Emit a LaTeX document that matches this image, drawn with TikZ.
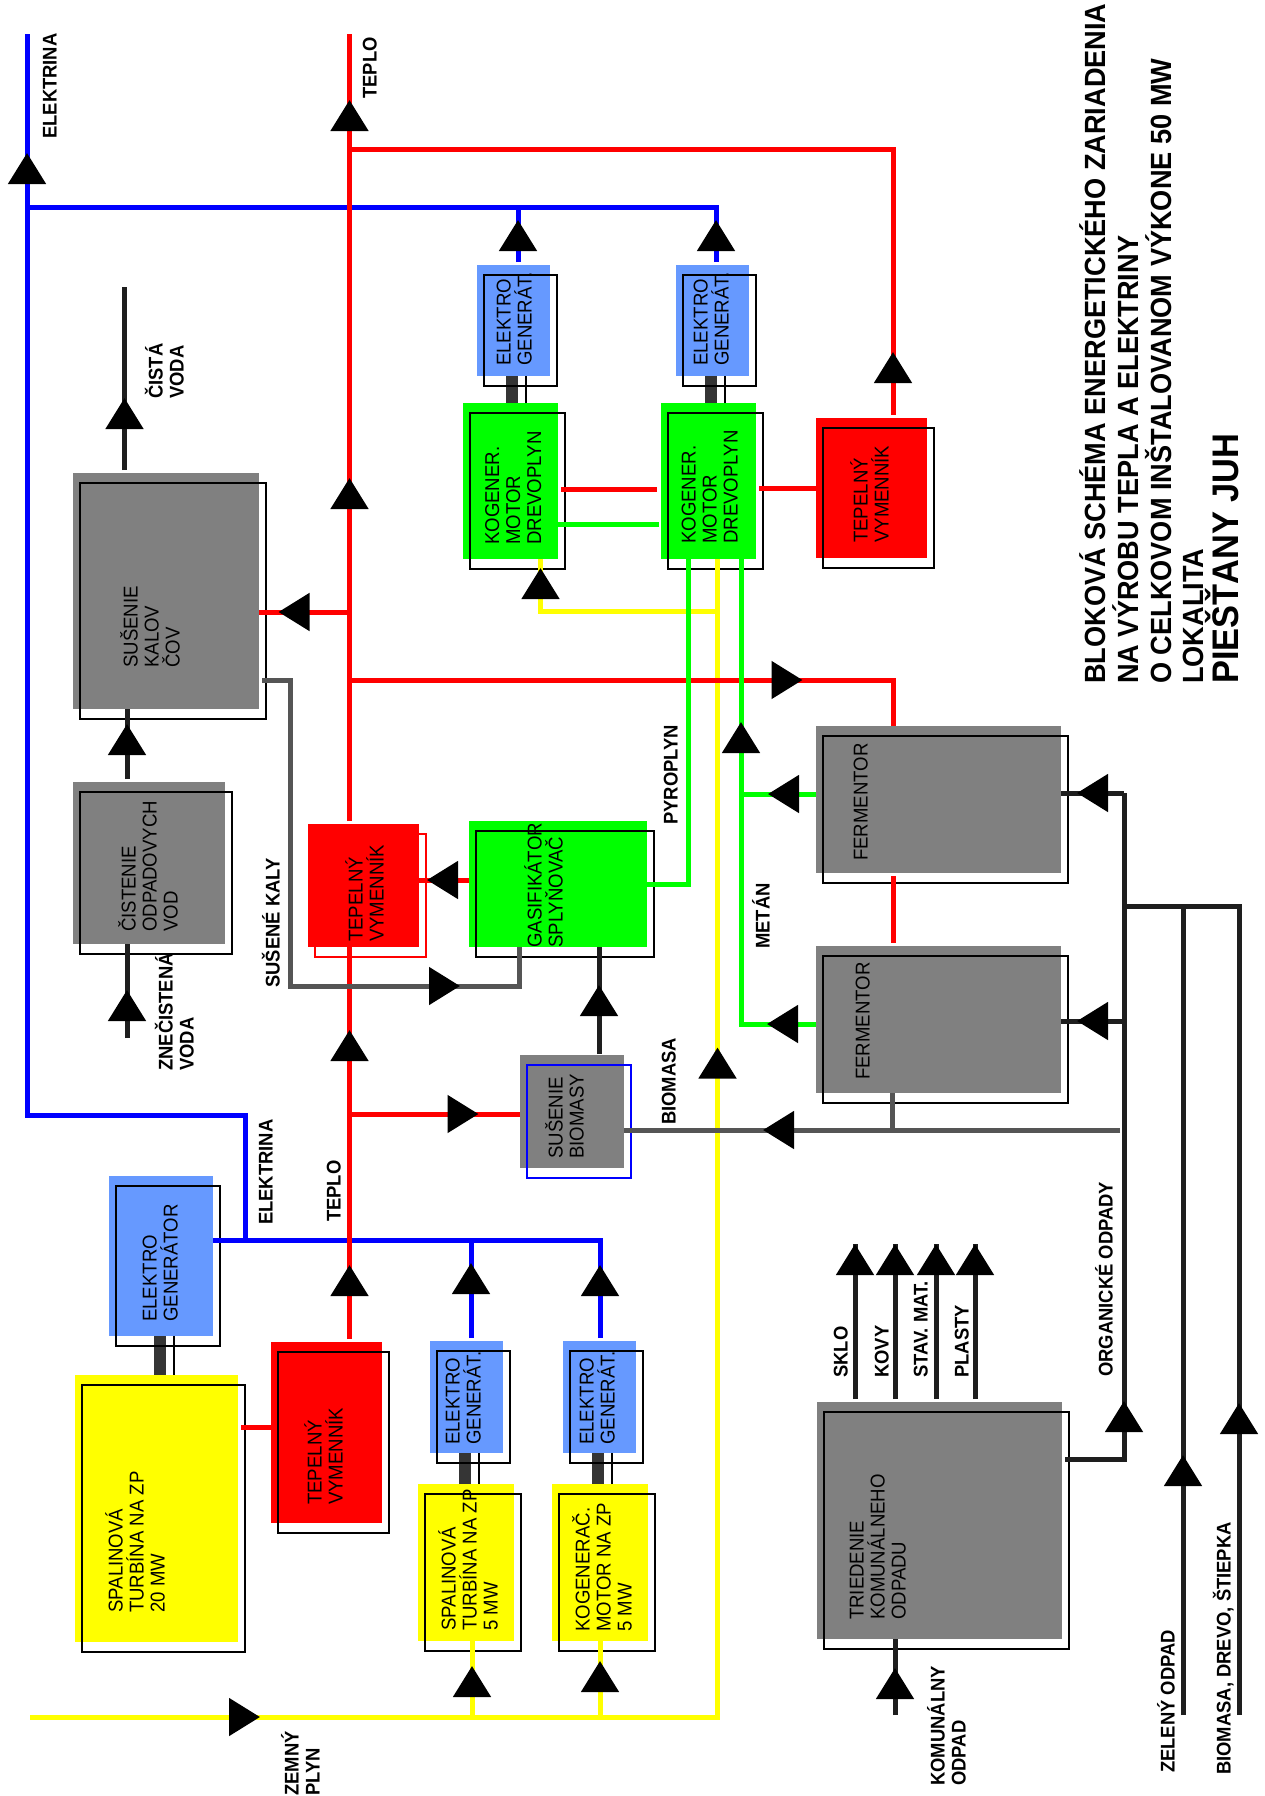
\documentclass[tikz,border=0pt]{standalone}
\usepackage{fontspec}
\setmainfont[FakeStretch=0.93]{Liberation Sans}
\usepackage{xcolor}
\usepackage{tikz}
\usetikzlibrary{arrows.meta, decorations.markings}
\definecolor{mygrey}{RGB}{128,128,128}
\definecolor{myblue}{RGB}{102,153,255}
\definecolor{myyellow}{RGB}{255,255,0}
\definecolor{mydark}{RGB}{30,30,30}
\definecolor{mypipe}{RGB}{85,85,85}
\tikzset{
  block/.style 2 args={rectangle, inner sep=0pt, outer sep=0pt,
    minimum width=#1pt, minimum height=#2pt},
  greyblock/.style 2 args={block={#1}{#2}, fill=mygrey},
  blueblock/.style 2 args={block={#1}{#2}, fill=myblue},
  greenblock/.style 2 args={block={#1}{#2}, fill=green},
  yellowblock/.style 2 args={block={#1}{#2}, fill=myyellow},
  redblock/.style 2 args={block={#1}{#2}, fill=red},
  frame/.style={line width=2pt, color=black},
  boxtext/.style={rotate=90, anchor=north west, align=left, inner sep=0pt,
    text height=14.5pt, font=\fontsize{20}{21}\selectfont},
  flowtext/.style={rotate=90, anchor=north west, align=left, inner sep=0pt,
    text height=14.5pt, font=\fontsize{19.8}{21}\selectfont\bfseries},
  line/.style={line width=5pt},
  gap/.style={shorten <=3pt},
  redline/.style={line, color=red},
  blueline/.style={line, color=blue},
  greenline/.style={line, color=green},
  yellowline/.style={line, color=myyellow},
  darkline/.style={line, color=mydark},
  pipeline/.style={line, color=mypipe},
  shaft/.style={line width=12pt, color=mydark!90!white},
  shafttrace/.style={line width=2pt, color=black},
  flow/.style={postaction={decorate, decoration={markings,
    mark=at position #1 with {\arrow[black]{Triangle[length=31pt,width=37pt]}}}}}
}
\begin{document}
\begin{tikzpicture}[x=1pt, y=-1pt]
  \useasboundingbox (0,0) rectangle (1264,1796);

  % ── Blocks: wood gas line (top) ─────────────────────────────────────────
  \node[blueblock={73}{111}]   (elgena) at (513,320.5)  {};
  \node[blueblock={73}{111}]   (elgenb) at (712.5,320.5) {};
  \node[greenblock={95}{156}]  (kogena) at (510.5,481)  {};
  \node[greenblock={95}{156}]  (kogenb) at (708.5,481)  {};
  \node[redblock={111}{140}]   (tepela) at (871.5,488)  {};

  % ── Blocks: sludge and water ────────────────────────────────────────────
  \node[greyblock={186}{236}]  (kalov)  at (166,591)    {};
  \node[greyblock={152}{162}]  (cisten) at (149,863)    {};

  % ── Blocks: gasifier, biomass, fermentors ───────────────────────────────
  \node[redblock={111}{123}]   (tepelb) at (363.5,885.5) {};
  \node[greenblock={178}{126}] (gasif)  at (558,884)    {};
  \node[greyblock={104}{113}]  (biomas) at (572,1111.5) {};
  \node[greyblock={245}{147}]  (ferma)  at (938.5,799.5) {};
  \node[greyblock={245}{147}]  (fermb)  at (938.5,1019.5) {};

  % ── Blocks: natural gas line (bottom) ───────────────────────────────────
  \node[blueblock={104}{160}]  (elgene) at (161,1256)   {};
  \node[yellowblock={163}{267}] (turba) at (156.5,1508.5) {};
  \node[redblock={111}{181}]   (tepelc) at (326.5,1432.5) {};
  \node[blueblock={73}{112}]   (elgenc) at (466,1397)   {};
  \node[blueblock={73}{112}]   (elgend) at (599.5,1397) {};
  \node[yellowblock={96}{157}] (turbb)  at (466,1562.5) {};
  \node[yellowblock={96}{157}] (kogenc) at (600,1562.5) {};
  \node[greyblock={245}{237}]  (tried)  at (939.5,1520.5) {};

  % ── Shafts between engine and generator ─────────────────────────────────
  \foreach \g/\t in {elgena/kogena, elgenb/kogenb, elgenc/turbb, elgend/kogenc, elgene/turba} {
    \draw[shaft] ([xshift=-1.5pt]\g.south) -- ([xshift=-1.5pt]\g.south |- \t.north);
    \draw[shafttrace] ([xshift=12.5pt]\g.south) -- ([xshift=12.5pt]\g.south |- \t.north);
  }

  % ── Offset outlines ─────────────────────────────────────────────────────
  \foreach \b in {elgena, elgenb, kogena, kogenb, tepela, kalov, cisten, gasif, ferma, fermb,
                  elgene, turba, tepelc, elgenc, elgend, turbb, kogenc, tried}
    \draw[frame] ([shift={(7,9.5)}]\b.north west) rectangle ([shift={(7,9.5)}]\b.south east);
  \draw[frame, color=red]  ([shift={(7,9.5)}]tepelb.north west) rectangle ([shift={(7,9.5)}]tepelb.south east);
  \draw[frame, color=blue] ([shift={(7,9.5)}]biomas.north west) rectangle ([shift={(7,9.5)}]biomas.south east);

  % ── Free ends and junctions ─────────────────────────────────────────────
  \coordinate (elektr)  at (27,34);
  \coordinate (teplo)   at (349.5,34);
  \coordinate (cista)   at (124.5,287);
  \coordinate (znecist) at (127,1038);
  \coordinate (plyn)    at (30,1717);
  \coordinate (komun)   at (895,1715);
  \coordinate (zelen)   at (1183,1715);
  \coordinate (drevo)   at (1239,1715);
  \coordinate (sklo)    at (855,1244);
  \coordinate (kovy)    at (895,1244);
  \coordinate (stav)    at (936,1244);
  \coordinate (plast)   at (975,1244);
  \coordinate (jgrid)   at (245,1240);
  \coordinate (jgridb)  at (245,1115);
  \coordinate (jgridc)  at (27,1115);
  \coordinate (jtop)    at (27,207);
  \coordinate (jtepa)   at (349.5,149);
  \coordinate (jkalov)  at (349.5,612);
  \coordinate (jferm)   at (349.5,680);
  \coordinate (jbiom)   at (349.5,1114);
  \coordinate (jturb)   at (300,1427);
  \coordinate (jkog)    at (600,489);
  \coordinate (jkogb)   at (600,524);
  \coordinate (jgaz)    at (717.5,611);
  \coordinate (jmeta)   at (741,794);
  \coordinate (jmetb)   at (741,1024);
  \coordinate (jkaly)   at (290,680);
  \coordinate (jkalyb)  at (290,986);
  \coordinate (jkalyc)  at (519,986);
  \coordinate (xbiom)   at (599,1054);
  \coordinate (jodp)    at (1120,1130);
  \coordinate (jodpb)   at (892.5,1130);
  \coordinate (jtrie)   at (1124,1459);
  \coordinate (jtrunk)  at (1124,793);
  \coordinate (jfeed)   at (1124,1021);
  \coordinate (jlink)   at (1124,906);
  \coordinate (jturbb)  at (472,1717);
  \coordinate (jkogc)   at (600,1717);
  \coordinate (jgenc)   at (471,1240);
  \coordinate (jgend)   at (600,1240);

  % ── Electricity ─────────────────────────────────────────────────────────
  \draw[blueline, gap, flow=45pt] ([xshift=3.5pt]elgenb.north) |- (jtop);
  \draw[blueline, gap, flow=45pt] ([xshift=5pt]elgena.north) -- ([xshift=5pt]elgena.north |- jtop);
  \draw[blueline, gap, flow=76pt] (jgend |- elgend.north) -- (jgend) -- (jgrid -| elgene.east);
  \draw[blueline, gap, flow=78pt] (jgenc |- elgenc.north) -- (jgenc);
  \draw[blueline, flow=1305pt] (jgrid) -- (jgridb) -- (jgridc) -- (elektr);

  % ── Natural gas ─────────────────────────────────────────────────────────
  \draw[yellowline, flow=230pt, flow=1357pt] (plyn) -| ([xshift=9pt]kogenb.south);
  \draw[yellowline, flow=220pt] (jgaz) -| ([xshift=30pt]kogena.south);
  \draw[yellowline, flow=51pt] (jturbb) -- (jturbb |- turbb.south);
  \draw[yellowline, flow=56pt] (jkogc) -- (jkogc |- kogenc.south);

  % ── Heat ────────────────────────────────────────────────────────────────
  \draw[redline, gap, flow=77pt, flow=312pt] (tepelc.north -| teplo) -- (tepelb.south -| teplo);
  \draw[redline, gap, flow=346pt, flow=724pt] (tepelb.north -| teplo) -- (teplo);
  \draw[redline, gap, flow=66pt] ([xshift=21.5pt]tepela.north) |- (jtepa);
  \draw[redline, gap, shorten >=4pt] (jkog -| kogena.east) -- (jkog -| kogenb.west);
  \draw[redline, gap] (kogenb.east |- tepela.west) -- (tepela.west);
  \draw[redline, flow=71pt] (jkalov) -- (jkalov -| kalov.east);
  \draw[redline, flow=453pt] (jferm) -| ([xshift=-45pt]ferma.north);
  \draw[redline, gap, shorten >=3pt] ([xshift=-45pt]ferma.south) -- ([xshift=-45pt]fermb.north);
  \draw[redline, flow=42pt] ([yshift=4pt]gasif.west) -- ([yshift=4pt]tepelb.east |- gasif.west);
  \draw[redline, flow=129pt] (jbiom) -- (jbiom -| biomas.west);
  \draw[redline, gap] (jturb -| turba.east) -- (jturb -| tepelc.west);

  % ── Wood gas and methane ────────────────────────────────────────────────
  \draw[greenline, shorten >=2pt] (jkogb -| kogena.east) -- (jkogb -| kogenb.west);
  \draw[greenline] (gasif.east) -| ([xshift=-20.5pt]kogenb.south);
  \draw[greenline, flow=49pt, flow=377pt] (jmetb -| fermb.west) -- (jmetb) -- (jmetb |- kogenb.south);
  \draw[greenline, flow=48pt] (jmeta -| ferma.west) -- (jmeta);

  % ── Water and sludge ────────────────────────────────────────────────────
  \draw[darkline, gap, flow=75pt] (cista |- kalov.north) -- (cista);
  \draw[darkline, gap, flow=58pt] (znecist |- cisten.north) -- (znecist |- kalov.south);
  \draw[darkline, flow=48pt] (znecist) -- (znecist |- cisten.south);
  \draw[pipeline, gap, flow=507pt] (jkaly -| kalov.east) -- (jkaly) -- (jkalyb) -- (jkalyc) -- (jkalyc |- gasif.south);

  % ── Biomass and waste ───────────────────────────────────────────────────
  \draw[darkline, flow=69pt] (xbiom) -- (xbiom |- gasif.south);
  \draw[pipeline, flow=357pt] (jodp) -- (jodp -| biomas.east);
  \draw[pipeline] (jodpb |- fermb.south) -- (jodpb);
  \draw[darkline, gap, flow=120pt] (jtrie -| tried.east) -- (jtrie) -- (jtrunk);
  \draw[darkline, flow=47pt] (jtrunk) -- (jtrunk -| ferma.east);
  \draw[darkline, flow=47pt] (jfeed) -- (jfeed -| fermb.east);
  \draw[darkline, flow=312pt] (drevo) |- (jlink);
  \draw[darkline, flow=260pt] (zelen) -- (zelen |- jlink);
  \draw[darkline, flow=47pt] (komun) -- (komun |- tried.south);
  \foreach \o in {sklo, kovy, stav, plast}
    \draw[darkline, gap, flow=158pt] (\o |- tried.north) -- (\o);

  % ── Block texts ─────────────────────────────────────────────────────────
  \node[boxtext] (telgena) at (517,366)   {ELEKTRO\\GENERÁT.};
  \node[boxtext] (telgenb) at (714,366)   {ELEKTRO\\GENERÁT.};
  \node[boxtext] (tkogena) at (526.5,545) {KOGENER.\\MOTOR\\DREVOPLYN};
  \node[boxtext] (tkogenb) at (723,544)   {KOGENER.\\MOTOR\\DREVOPLYN};
  \node[boxtext] (ttepela) at (874,543)   {TEPELNÝ\\VYMENNÍK};
  \node[boxtext] (tkalov)  at (165,668)   {SUŠENIE\\KALOV\\ČOV};
  \node[boxtext] (tcisten) at (163,932)   {ČISTENIE\\ODPADOVYCH\\VOD};
  \node[boxtext] (ttepelb) at (369,942)   {TEPELNÝ\\VYMENNÍK};
  \node[boxtext] (tgasif)  at (548,948)   {GASIFIKÁTOR\\SPLYŇOVAČ};
  \node[boxtext] (tbiomas) at (569,1159)  {SUŠENIE\\BIOMASY};
  \node[boxtext] (tferma)  at (853,861)   {FERMENTOR};
  \node[boxtext] (tfermb)  at (855,1080)  {FERMENTOR};
  \node[boxtext] (telgene) at (163,1322)  {ELEKTRO\\GENERÁTOR};
  \node[boxtext] (tturba)  at (150,1613)  {SPALINOVÁ\\TURBÍNA NA ZP\\20 MW};
  \node[boxtext] (ttepelc) at (328,1505)  {TEPELNÝ\\VYMENNÍK};
  \node[boxtext] (telgenc) at (466,1445)  {ELEKTRO\\GENERÁT.};
  \node[boxtext] (telgend) at (600,1445)  {ELEKTRO\\GENERÁT.};
  \node[boxtext] (tturbb)  at (483,1631)  {SPALINOVÁ\\TURBÍNA NA ZP\\5 MW};
  \node[boxtext] (tkogenc) at (617,1632)  {KOGENERAČ.\\MOTOR NA ZP\\5 MW};
  \node[boxtext] (ttried)  at (891,1620)  {TRIEDENIE\\KOMUNÁLNEHO\\ODPADU};

  % ── Flow labels ─────────────────────────────────────────────────────────
  \node[flowtext] (lelektr) at (42,139)    {ELEKTRINA};
  \node[flowtext] (lteplo)  at (362,99)    {TEPLO};
  \node[flowtext] (lcista)  at (169,399)   {ČISTÁ\\VODA};
  \node[flowtext] (lkaly)   at (265,988)   {SUŠENÉ KALY};
  \node[flowtext] (lznec)   at (179,1071)  {ZNEČISTENÁ\\VODA};
  \node[flowtext] (lelektb) at (258,1225)  {ELEKTRINA};
  \node[flowtext] (ltepb)   at (326,1222)  {TEPLO};
  \node[flowtext] (lpyro)   at (663,825)   {PYROPLYN};
  \node[flowtext] (lmetan)  at (755,949)   {METÁN};
  \node[flowtext] (lbiom)   at (661,1125)  {BIOMASA};
  \node[flowtext] (lorg)    at (1098,1377) {ORGANICKÉ ODPADY};
  \node[flowtext] (lsklo)   at (833,1378)  {SKLO};
  \node[flowtext] (lkovy)   at (874,1378)  {KOVY};
  \node[flowtext] (lstav)   at (913,1378)  {STAV. MAT.};
  \node[flowtext] (lplast)  at (954,1378)  {PLASTY};
  \node[flowtext] (lkomun)  at (951,1786)  {KOMUNÁLNY\\ODPAD};
  \node[flowtext] (lzelen)  at (1160,1773) {ZELENÝ ODPAD};
  \node[flowtext] (ldrevo)  at (1216,1775) {BIOMASA, DREVO, ŠTIEPKA};
  \node[flowtext] (lplyn)   at (305,1796)  {ZEMNÝ\\PLYN};

  % ── Title ───────────────────────────────────────────────────────────────
  \node[rotate=90, anchor=north west, align=left, inner sep=0pt, text height=21pt,
        font=\fontsize{29.2}{32.6}\selectfont\bfseries] (title) at (1217,684)
    {BLOKOVÁ SCHÉMA ENERGETICKÉHO ZARIADENIA\\NA VÝROBU TEPLA A ELEKTRINY\\O CELKOVOM INŠTALOVANOM VÝKONE 50 MW\\LOKALITA\\{\fontsize{37}{33}\selectfont PIEŠŤANY JUH}};
\end{tikzpicture}
\end{document}
